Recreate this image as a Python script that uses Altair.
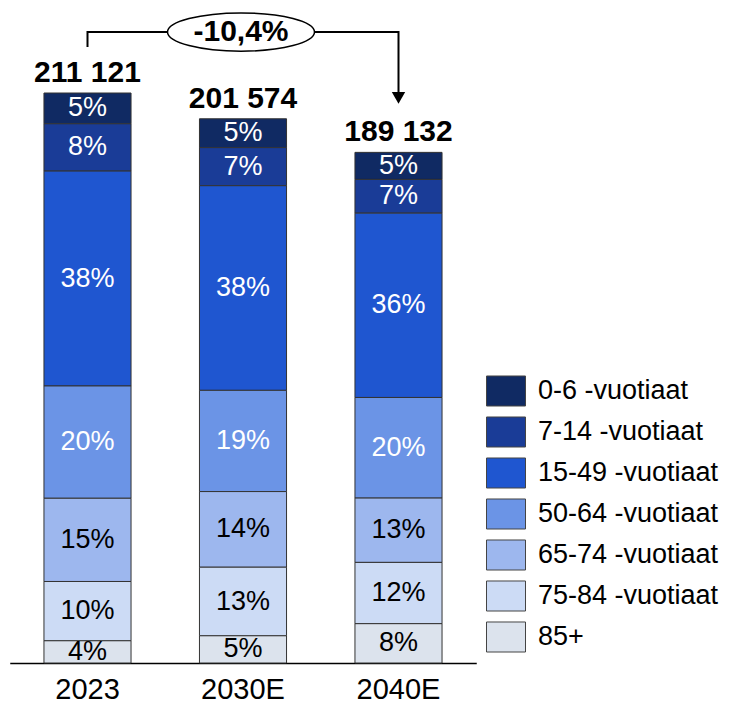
import altair as alt
import pandas as pd

# ---- data ----
years = ["2023", "2030E", "2040E"]
totals = [211121, 201574, 189132]
groups = ["0-6 -vuotiaat", "7-14 -vuotiaat", "15-49 -vuotiaat", "50-64 -vuotiaat",
          "65-74 -vuotiaat", "75-84 -vuotiaat", "85+"]
shares_2023 = [5.4, 8.3, 37.7, 19.7, 14.6, 10.4, 3.9]
shares_2030 = [5.3, 7.0, 37.6, 18.6, 13.9, 12.6, 5.0]
shares_2040 = [5.3, 6.6, 36.1, 19.7, 12.6, 12.0, 7.7]
change_label = "-10,4%"

# annotation bracket levels (in population units)
bracket_start = 228200
bracket_top = 233700
bracket_end = 209300

colors = ["#102a63", "#1a3c97", "#1f56d0", "#6b94e6", "#9db7ee", "#ccdbf5", "#dce3ed"]
text_colors = ["#ffffff", "#ffffff", "#ffffff", "#ffffff", "#000000", "#000000", "#000000"]
FONT = "Liberation Sans"

rows = []
for yr, tot, sh in zip(years, totals, [shares_2023, shares_2030, shares_2040]):
    for i, (g, s) in enumerate(zip(groups, sh)):
        rows.append({"year": yr, "group": g, "ord": i, "value": tot * s / 100.0,
                     "label": f"{round(s)}%"})
df = pd.DataFrame(rows)

tot_df = pd.DataFrame({"year": years, "total": totals,
                       "label": [f"{t:,}".replace(",", " ") for t in totals]})

br_df = pd.DataFrame({"year": ["2023", "2023", "2040E", "2040E"],
                      "y": [bracket_start, bracket_top, bracket_top, bracket_end],
                      "o": [0, 1, 2, 3]})
ann_df = pd.DataFrame({"year": ["2030E"], "y": [bracket_top], "label": [change_label]})
tip_df = pd.DataFrame({"year": ["2040E"], "y": [bracket_end]})

xscale = alt.Scale(domain=years, range=[1.75, 468.25], paddingInner=0.44, paddingOuter=0.22)
yscale = alt.Scale(domain=[0, 242605], nice=False)
xenc = alt.X("year:N", scale=xscale, sort=years, title=None,
             axis=alt.Axis(labelAngle=0, ticks=False, labelFontSize=29, labelColor="black",
                           labelFont=FONT, labelPadding=12, domainColor="black",
                           domainWidth=1.5))

base = alt.Chart(df).transform_stack(
    stack="value", groupby=["year"], as_=["y0", "y1"],
    sort=[alt.SortField("ord", order="descending")]
).transform_calculate(mid="(datum.y0 + datum.y1) / 2")

bars = base.mark_bar(stroke="#333333", strokeWidth=1).encode(
    x=xenc,
    y=alt.Y("y0:Q", scale=yscale, axis=None),
    y2="y1:Q",
    color=alt.Color("group:N", scale=alt.Scale(domain=groups, range=colors),
                    legend=alt.Legend(title=None, orient="none", legendX=478, legendY=363,
                                      symbolType="M-1,-0.77H1V0.77H-1Z", symbolSize=1521,
                                      symbolStrokeColor="#444444", symbolStrokeWidth=1,
                                      symbolOpacity=1,
                                      labelFontSize=27, labelFont=FONT, labelColor="black",
                                      labelOffset=12, labelLimit=400, rowPadding=3,
                                      padding=0)),
)

seg_text = base.mark_text(fontSize=27, font=FONT, baseline="middle", align="center").encode(
    x=alt.X("year:N", scale=xscale, sort=years),
    y=alt.Y("mid:Q", scale=yscale),
    text="label:N",
    color=alt.Color("group:N", scale=alt.Scale(domain=groups, range=text_colors), legend=None),
)

tot_text = alt.Chart(tot_df).mark_text(fontSize=30, font=FONT, fontWeight="bold",
                                       baseline="alphabetic", dy=-11, color="black").encode(
    x=alt.X("year:N", scale=xscale, sort=years),
    y=alt.Y("total:Q", scale=yscale),
    text="label:N",
)

bracket = alt.Chart(br_df).mark_line(color="black", strokeWidth=2).encode(
    x=alt.X("year:N", scale=xscale, sort=years),
    y=alt.Y("y:Q", scale=yscale),
    order="o:Q",
)

tip = alt.Chart(tip_df).mark_point(shape="triangle-down", size=180, filled=True,
                                   color="black", opacity=1).encode(
    x=alt.X("year:N", scale=xscale, sort=years),
    y=alt.Y("y:Q", scale=yscale),
)

ellipse = alt.Chart(ann_df).mark_point(
    shape="M-1,0A1,0.26,0,1,0,1,0A1,0.26,0,1,0,-1,0Z", size=21609, filled=True,
    fill="white", stroke="black", strokeWidth=1.5, opacity=1, xOffset=-2).encode(
    x=alt.X("year:N", scale=xscale, sort=years),
    y=alt.Y("y:Q", scale=yscale),
)

ann_text = alt.Chart(ann_df).mark_text(fontSize=30, font=FONT, fontWeight="bold",
                                       baseline="middle", color="black", dx=-2).encode(
    x=alt.X("year:N", scale=xscale, sort=years),
    y=alt.Y("y:Q", scale=yscale),
    text="label:N",
)

chart = alt.layer(bars, seg_text, tot_text, bracket, tip, ellipse, ann_text).resolve_scale(
    color="independent"
).properties(
    width=713, height=655,
    autosize=alt.AutoSizeParams(type="none"),
    padding={"left": 0, "top": 0, "right": 0, "bottom": 40},
    background="white",
).configure_view(strokeWidth=0)

chart.save("out.html", embed_options={"renderer": "svg", "actions": False})
